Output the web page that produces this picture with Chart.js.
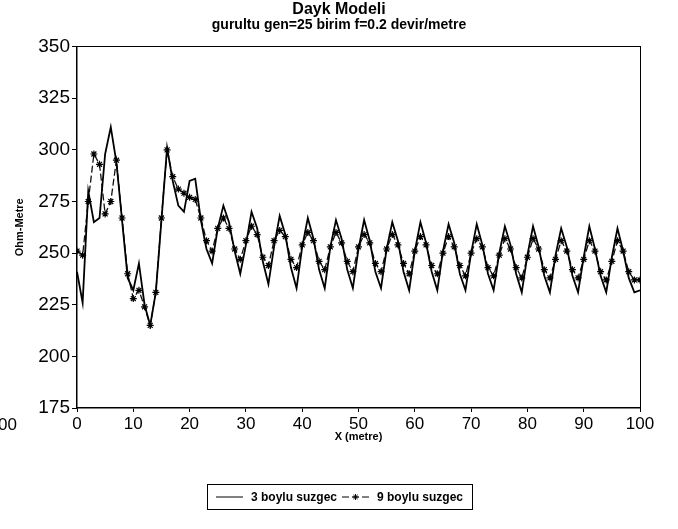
<!DOCTYPE html>
<html>
<head>
<meta charset="utf-8">
<title>Dayk Modeli</title>
<script src="https://cdn.jsdelivr.net/npm/chart.js@4/dist/chart.umd.min.js"></script>
<style>
	html, body { margin: 0; padding: 0; background: #fff; }
	#wrap { width: 678px; height: 529px; }
</style>
</head>
<body>
<div id="wrap"><canvas id="daykChart" width="678" height="529"></canvas></div>
<script>
// ─── Data ───────────────────────────────────────
const metre = [
	0, 1, 2, 3, 4, 5, 6, 7, 8, 9,
	10, 11, 12, 13, 14, 15, 16, 17, 18, 19,
	20, 21, 22, 23, 24, 25, 26, 27, 28, 29,
	30, 31, 32, 33, 34, 35, 36, 37, 38, 39,
	40, 41, 42, 43, 44, 45, 46, 47, 48, 49,
	50, 51, 52, 53, 54, 55, 56, 57, 58, 59,
	60, 61, 62, 63, 64, 65, 66, 67, 68, 69,
	70, 71, 72, 73, 74, 75, 76, 77, 78, 79,
	80, 81, 82, 83, 84, 85, 86, 87, 88, 89,
	90, 91, 92, 93, 94, 95, 96, 97, 98, 99,
	100,
];

// 3 boylu suzgec (duz cizgi)
const suzgec3 = [
	241, 226, 280, 265, 267, 298, 311, 294, 266, 238,
	232, 245, 225, 215, 231, 266, 301, 285, 273, 270,
	285, 286, 266, 252, 245, 262, 273, 265, 251, 240,
	254, 270, 262, 246, 235, 253, 268, 259, 243, 233,
	253, 267, 257, 242, 233, 253, 266, 257, 242, 233,
	252, 266, 256, 241, 233, 252, 265, 256, 241, 232,
	251, 265, 255, 241, 232, 251, 264, 255, 240, 232,
	250, 264, 254, 240, 232, 250, 263, 254, 240, 231,
	249, 263, 253, 239, 231, 249, 262, 253, 239, 231,
	248, 263, 252, 239, 231, 248, 262, 251, 238, 231,
	232,
];

// 9 boylu suzgec (kesikli cizgi + yildiz)
const suzgec9 = [
	251, 249, 275, 298, 293, 269, 275, 295, 267, 240,
	228, 232, 224, 215, 231, 267, 300, 287, 281, 279,
	277, 276, 267, 256, 251, 262, 267, 262, 252, 247,
	256, 263, 259, 248, 244, 256, 261, 258, 247, 243,
	254, 260, 256, 246, 242, 253, 260, 255, 246, 241,
	253, 259, 255, 245, 241, 252, 259, 254, 245, 240,
	251, 258, 254, 244, 240, 250, 258, 253, 244, 239,
	250, 257, 253, 243, 239, 249, 257, 252, 243, 238,
	248, 257, 252, 242, 238, 247, 256, 251, 242, 238,
	247, 256, 251, 241, 237, 246, 256, 251, 241, 237,
	237,
];

const xTicks = [0, 10, 20, 30, 40, 50, 60, 70, 80, 90, 100];
const yTicks = [175, 200, 225, 250, 275, 300, 325, 350];
const seriesNames = ["3 boylu suzgec", "9 boylu suzgec"];

// ─── Helpers ────────────────────────────────────
const FONT = "'Liberation Sans', Arial, Helvetica, sans-serif";
const toPoints = (ys) => metre.map((x, i) => ({ x, y: ys[i] }));

// legend in a box + stray "00" label of the scan
const boxLegend = {
	id: "boxLegend",
	afterDraw(chart) {
		const ctx = chart.ctx;
		const midY = 497;
		const sample = 27, gap = 8, sep = 5, pad = 9;
		ctx.save();
		ctx.font = `bold 12px ${FONT}`;
		const items = chart.data.datasets.map((ds) => ({ ds, w: ctx.measureText(ds.label).width }));
		const total = items.reduce((s, it) => s + sample + gap + it.w, 0) + sep * (items.length - 1) + pad * 2;
		let x = Math.round(340 - total / 2);
		ctx.strokeStyle = "#000";
		ctx.lineWidth = 1;
		ctx.strokeRect(x + 0.5, 484.5, Math.round(total), 25);
		x += pad;
		ctx.fillStyle = "#000";
		ctx.textBaseline = "middle";
		items.forEach(({ ds, w }) => {
			ctx.beginPath();
			ctx.setLineDash(ds.borderDash || []);
			ctx.lineWidth = 1;
			ctx.moveTo(x, midY);
			ctx.lineTo(x + sample, midY);
			ctx.stroke();
			ctx.setLineDash([]);
			if (ds.pointRadius > 0) {
				Chart.helpers.drawPoint(ctx, { pointStyle: ds.pointStyle, radius: 3, borderWidth: 1 }, x + sample / 2, midY);
			}
			x += sample + gap;
			ctx.fillText(ds.label, x, midY + 1);
			x += w + sep;
		});
		ctx.font = `17px ${FONT}`;
		ctx.textBaseline = "middle";
		ctx.fillText("00", -2, 425);
		ctx.restore();
	},
};

// ─── Chart ──────────────────────────────────────
const ctx = document.getElementById("daykChart").getContext("2d");
new Chart(ctx, {
	type: "line",
	data: {
		datasets: [
			{
				label: seriesNames[0],
				data: toPoints(suzgec3),
				borderColor: "#000",
				borderWidth: 1.8,
				pointRadius: 0,
				tension: 0,
				fill: false,
			},
			{
				label: seriesNames[1],
				data: toPoints(suzgec9),
				borderColor: "#111",
				borderWidth: 1.3,
				borderDash: [7, 3],
				pointStyle: "star",
				pointRadius: 3.5,
				pointBorderWidth: 1.2,
				pointBorderColor: "#000",
				pointBackgroundColor: "#000",
				tension: 0,
				fill: false,
			},
		],
	},
	options: {
		responsive: false,
		animation: false,
		devicePixelRatio: 1,
		layout: { padding: { left: 0, right: 0, top: 0, bottom: 85 } },
		plugins: {
			legend: { display: false },
			tooltip: { enabled: false },
			title: {
				display: true,
				text: "Dayk Modeli",
				color: "#000",
				font: { family: FONT, size: 16, weight: "bold", lineHeight: 1.1 },
				padding: { top: 1, bottom: 0 },
			},
			subtitle: {
				display: true,
				text: "gurultu gen=25 birim f=0.2 devir/metre",
				color: "#000",
				font: { family: FONT, size: 14, weight: "bold", lineHeight: 1 },
				padding: { top: 0, bottom: 0 },
			},
		},
		scales: {
			x: {
				type: "linear",
				min: 0,
				max: 100,
				afterBuildTicks: (s) => { s.ticks = xTicks.map((v) => ({ value: v })); },
				afterFit: (s) => { s.height = 36; },
				grid: { display: true, drawOnChartArea: false, color: "#000", tickLength: 4 },
				border: { display: true, color: "#000", width: 1.5 },
				ticks: { color: "#000", font: { family: FONT, size: 17 }, padding: 2, maxRotation: 0 },
				title: {
					display: true,
					text: "X (metre)",
					color: "#000",
					font: { family: FONT, size: 11, weight: "bold" },
					padding: { top: 0, bottom: 0 },
				},
			},
			y: {
				min: 175,
				max: 350,
				afterBuildTicks: (s) => { s.ticks = yTicks.map((v) => ({ value: v })); },
				afterFit: (s) => { s.width = 77; },
				grid: { display: true, drawOnChartArea: false, color: "#000", tickLength: 5 },
				border: { display: true, color: "#000", width: 1.5 },
				ticks: { color: "#000", font: { family: FONT, size: 19 }, padding: 2 },
				title: {
					display: true,
					text: "Ohm-Metre",
					color: "#000",
					font: { family: FONT, size: 11, weight: "bold" },
					padding: { top: 13, bottom: 0 },
				},
			},
			// frame: top and right edges of the plot box
			xTop: {
				type: "linear",
				position: "top",
				afterFit: (s) => { s.height = 14; },
				grid: { display: false },
				ticks: { display: false },
				border: { display: true, color: "#000", width: 1 },
			},
			yRight: {
				type: "linear",
				position: "right",
				afterFit: (s) => { s.width = 38; },
				grid: { display: false },
				ticks: { display: false },
				border: { display: true, color: "#000", width: 1 },
			},
		},
	},
	plugins: [boxLegend],
});
</script>
</body>
</html>
